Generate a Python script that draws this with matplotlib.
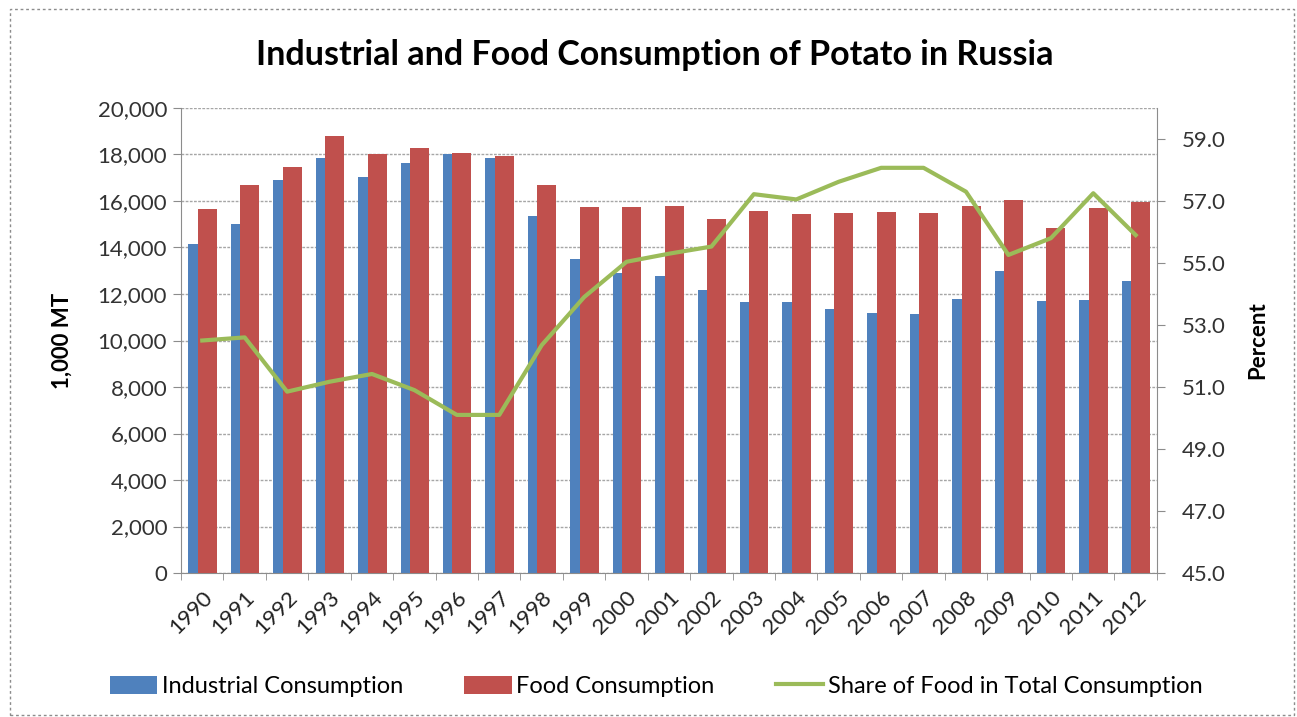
import numpy as np
import matplotlib.pyplot as plt
from matplotlib.patches import Rectangle
from matplotlib.ticker import FuncFormatter, FixedLocator

plt.rcParams['font.family'] = ['Lato', 'DejaVu Sans']

years = ['1990', '1991', '1992', '1993', '1994', '1995', '1996', '1997', '1998', '1999',
         '2000', '2001', '2002', '2003', '2004', '2005', '2006', '2007', '2008', '2009',
         '2010', '2011', '2012']
industrial = [14150, 15000, 16900, 17840, 17020, 17650, 18020, 17840, 15370, 13490,
              12890, 12790, 12170, 11640, 11640, 11370, 11200, 11130, 11780, 13000,
              11700, 11740, 12570]
food = [15660, 16700, 17470, 18810, 18020, 18290, 18080, 17920, 16700, 15760,
        15760, 15790, 15230, 15580, 15430, 15470, 15510, 15470, 15780, 16040,
        14840, 15710, 15940]
share = [52.5, 52.6, 50.85, 51.17, 51.42, 50.9, 50.1, 50.1, 52.35, 53.9,
         55.04, 55.3, 55.53, 57.22, 57.05, 57.62, 58.07, 58.07, 57.3, 55.26,
         55.8, 57.25, 55.9]

blue = '#4F81BD'
red = '#C0504D'
green = '#9BBB59'

fig = plt.figure(figsize=(12.97, 7.17), dpi=100)
# dotted border of the chart area
fig.patches.append(Rectangle((0.008, 0.003), 0.99, 0.985, transform=fig.transFigure,
                             fill=False, edgecolor='#8c8c8c', linestyle=(0, (2, 2)), lw=1))

ax = fig.add_axes([0.1396, 0.2008, 0.7524, 0.6486])
x = np.arange(len(years))
w = 0.45
ax.bar(x - 0.1, industrial, w, color=blue, zorder=2, label='Industrial Consumption')
ax.bar(x + 0.12, food, w, color=red, zorder=3, label='Food Consumption')

ax.set_xlim(-0.5, len(years) - 0.5)
ax.set_ylim(0, 20000)
ax.set_yticks(np.arange(0, 20001, 2000))
ax.yaxis.set_major_formatter(FuncFormatter(lambda v, p: f'{int(v):,}'))
ax.grid(axis='y', color='#a6a6a6', linestyle=(0, (2, 1)), lw=1, zorder=0)
ax.set_axisbelow(True)
ax.set_xticks(x)
ax.set_xticklabels(years, rotation=45, ha='right', rotation_mode='anchor')
ax.xaxis.set_minor_locator(FixedLocator(np.arange(-0.5, len(years), 1)))
ax.tick_params(axis='x', which='major', length=0, pad=10, labelsize=16, labelcolor='#222222')
ax.tick_params(axis='x', which='minor', length=5, color='#8c8c8c')
ax.tick_params(axis='y', length=6, color='#8c8c8c', labelsize=16, labelcolor='#333333', pad=4)
ax.set_ylabel('1,000 MT', fontsize=16, fontweight='bold', labelpad=18)
for s in ['top', 'right']:
    ax.spines[s].set_visible(False)
for s in ['left', 'bottom']:
    ax.spines[s].set_color('#8c8c8c')

ax2 = ax.twinx()
ax2.plot(x, share, color=green, lw=3, zorder=5, label='Share of Food in Total Consumption')
ax2.set_ylim(45, 60)
ax2.set_yticks(np.arange(45, 60, 2))
ax2.yaxis.set_major_formatter(FuncFormatter(lambda v, p: f'{v:.1f}'))
ax2.tick_params(axis='y', length=6, color='#8c8c8c', labelsize=16, labelcolor='#333333', pad=12)
ax2.set_ylabel('Percent', fontsize=16, fontweight='bold', labelpad=15)
for s in ['top', 'left', 'bottom']:
    ax2.spines[s].set_visible(False)
ax2.spines['right'].set_color('#8c8c8c')

fig.text(0.505, 0.923, 'Industrial and Food Consumption of Potato in Russia',
         ha='center', va='center', fontsize=24.5, fontweight='bold')

h1, l1 = ax.get_legend_handles_labels()
h2, l2 = ax2.get_legend_handles_labels()
fig.legend(h1 + h2, l1 + l2, loc='center', bbox_to_anchor=(0.506, 0.043), ncol=3,
           frameon=False, fontsize=17, handlelength=2.0, handleheight=0.8,
           handletextpad=0.2, columnspacing=2.6)

fig.savefig('out.png', dpi=100)
